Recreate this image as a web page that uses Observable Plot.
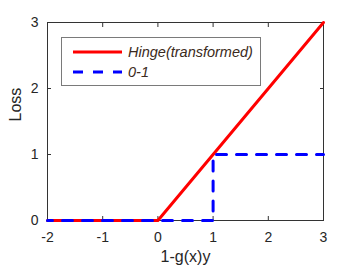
<!DOCTYPE html>
<html>
<head>
<meta charset="utf-8">
<script src="https://cdn.jsdelivr.net/npm/d3@7"></script>
<script src="https://cdn.jsdelivr.net/npm/@observablehq/plot@0.6"></script>
<style>
  html, body { margin: 0; padding: 0; background: #fff; }
  #wrap { position: relative; width: 357px; height: 275px; font-family: "Liberation Sans", Arial, Helvetica, sans-serif; }
  #legend { position: absolute; left: 61px; top: 37px; width: 198px; height: 47px; border: 1px solid #7a7a7a; background: #fff; }
  #legend .row { position: absolute; left: 0; height: 20px; display: flex; align-items: center; }
  #legend .lbl { font-style: italic; font-size: 14.5px; color: #3b2a20; margin-left: 6px; }
</style>
</head>
<body>
<div id="wrap"></div>
<script>
// ---- data ----
const hingeX = [-2, 0, 3];
const hingeY = [0, 0, 3];
const zeroOneX = [-2, 1, 1, 3];
const zeroOneY = [0, 0, 1, 1];
const xTicks = [-2, -1, 0, 1, 2, 3];
const yTicks = [0, 1, 2, 3];
const seriesNames = ["Hinge(transformed)", "0-1"];
const xLabel = "1-g(x)y";
const yLabel = "Loss";

const hinge = hingeX.map((x, i) => ({x, y: hingeY[i]}));
const zeroOne = zeroOneX.map((x, i) => ({x, y: zeroOneY[i]}));

const axisColor = "#333";
const chart = Plot.plot({
  width: 357,
  height: 275,
  marginLeft: 47,
  marginRight: 34,
  marginTop: 22,
  marginBottom: 55,
  style: {fontFamily: '"Liberation Sans", Arial, Helvetica, sans-serif', background: "#fff", color: axisColor},
  x: {domain: [-2, 3]},
  y: {domain: [0, 3]},
  marks: [
    Plot.frame({stroke: axisColor, strokeWidth: 1}),
    Plot.axisX({ticks: xTicks, anchor: "bottom", tickSize: -4, tickPadding: 16, fontSize: 14, label: null, tickFormat: d => String(d), stroke: axisColor, fill: "#262626"}),
    Plot.axisX({ticks: xTicks, anchor: "top", tickSize: -4, label: null, tickFormat: () => "", stroke: axisColor}),
    Plot.axisY({ticks: yTicks, anchor: "left", tickSize: -4, tickPadding: 13, fontSize: 14, label: null, tickFormat: d => String(d), stroke: axisColor, fill: "#262626"}),
    Plot.axisY({ticks: yTicks, anchor: "right", tickSize: -4, label: null, tickFormat: () => "", stroke: axisColor}),
    Plot.text([xLabel], {frameAnchor: "bottom", dy: 41.5, fontSize: 16, fill: "#262626", text: d => d}),
    Plot.text([yLabel], {frameAnchor: "left", dx: -32, rotate: -90, fontSize: 16, fill: "#262626", text: d => d}),
    Plot.line(hinge, {x: "x", y: "y", stroke: "#ff0000", strokeWidth: 3}),
    Plot.line(zeroOne, {x: "x", y: "y", stroke: "#0000ff", strokeWidth: 3, strokeDasharray: "10,10", strokeDashoffset: 5})
  ]
});

const wrap = document.getElementById("wrap");
wrap.appendChild(chart);

// legend
const legend = document.createElement("div");
legend.id = "legend";
const styles = [
  {stroke: "#ff0000", dash: null},
  {stroke: "#0000ff", dash: "10,10"}
];
seriesNames.forEach((name, i) => {
  const row = document.createElement("div");
  row.className = "row";
  row.style.top = (4 + i * 20) + "px";
  row.style.left = "10px";
  const s = styles[i];
  row.innerHTML = `<svg width="50" height="20"><line x1="1" x2="50" y1="10" y2="10" stroke="${s.stroke}" stroke-width="3" ${s.dash ? `stroke-dasharray="${s.dash}"` : ""}/></svg><span class="lbl">${name}</span>`;
  legend.appendChild(row);
});
wrap.appendChild(legend);
</script>
</body>
</html>
